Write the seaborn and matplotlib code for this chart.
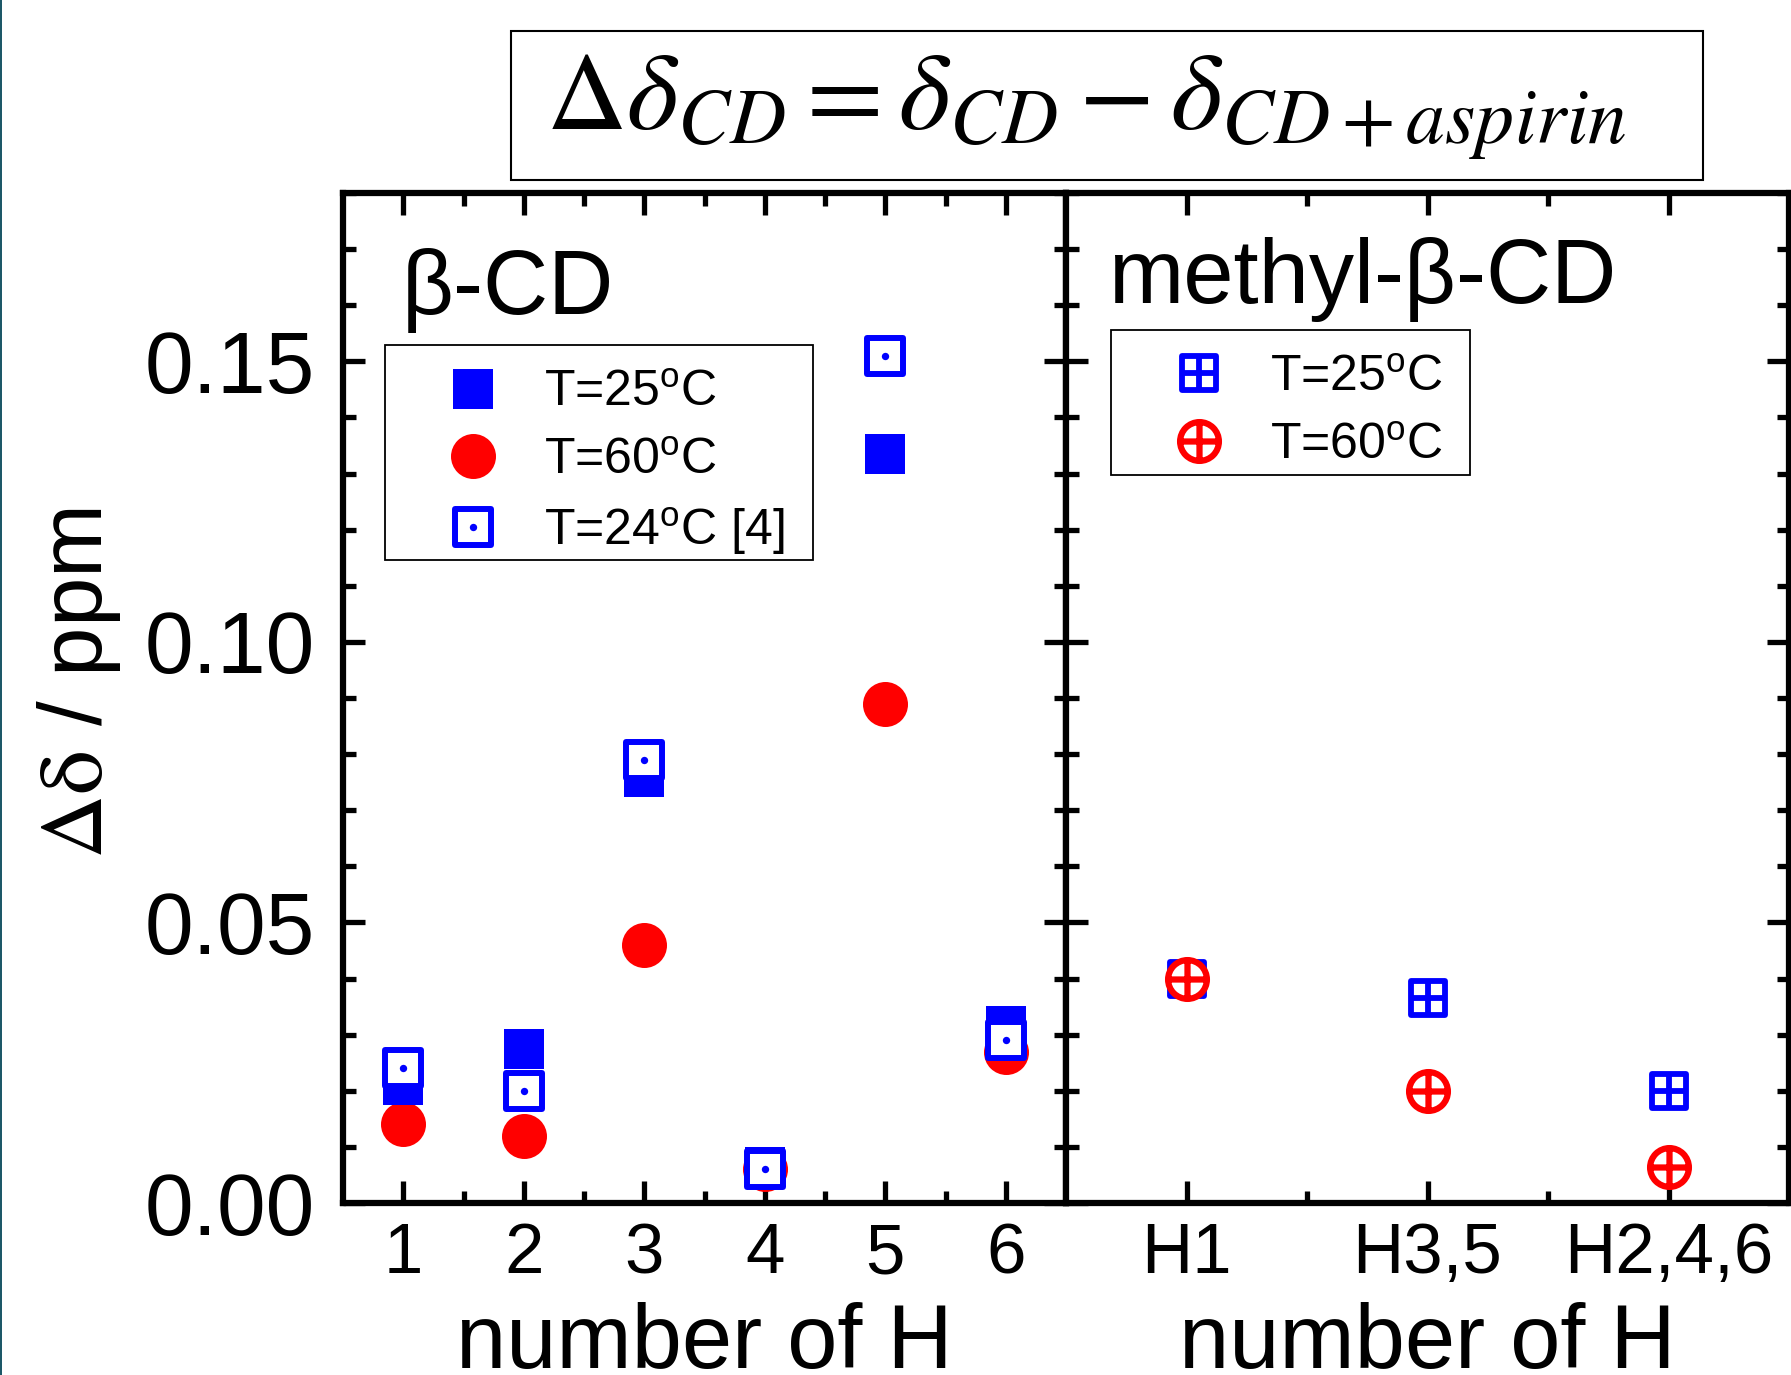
import numpy as np
import pandas as pd
import matplotlib
matplotlib.use("Agg")
import matplotlib.pyplot as plt
import seaborn as sns
from matplotlib.path import Path
from matplotlib.patches import Rectangle
from matplotlib.ticker import FixedLocator, MultipleLocator

# ---------------- data ----------------
h_number = [1, 2, 3, 4, 5, 6]
bcd_25 = [0.021, 0.0275, 0.076, 0.0065, 0.1335, 0.0315]
bcd_60 = [0.014, 0.012, 0.046, 0.006, 0.089, 0.027]
bcd_24_ref = [0.024, 0.020, 0.079, 0.006, 0.151, 0.029]
mbcd_labels = ["H1", "H3,5", "H2,4,6"]
mbcd_25 = [0.040, 0.0365, 0.020]
mbcd_60 = [0.040, 0.020, 0.0065]
yticks = [0.00, 0.05, 0.10, 0.15]
ytick_labels = ["0.00", "0.05", "0.10", "0.15"]
legend_left = [r"T=25$^{\mathrm{o}}$C", r"T=60$^{\mathrm{o}}$C", r"T=24$^{\mathrm{o}}$C [4]"]
legend_right = [r"T=25$^{\mathrm{o}}$C", r"T=60$^{\mathrm{o}}$C"]

BLUE = "#0000FF"
RED = "#FF0000"

sns.set_style("ticks")
plt.rcParams["font.family"] = ["Liberation Sans", "DejaVu Sans"]
plt.rcParams["mathtext.fontset"] = "custom"
plt.rcParams["mathtext.rm"] = "Liberation Sans"
plt.rcParams["mathtext.it"] = "Liberation Sans:italic"
plt.rcParams["mathtext.bf"] = "Liberation Sans:bold"
for k in ["text.color", "axes.labelcolor", "xtick.color", "ytick.color", "axes.edgecolor"]:
    plt.rcParams[k] = "black"

W, H = 1791, 1375
fig = plt.figure(figsize=(W / 100, H / 100), dpi=100)
fig.patch.set_facecolor("white")
axL = fig.add_axes([343 / W, (H - 1203) / H, 723 / W, 1010 / H])
axR = fig.add_axes([1066 / W, (H - 1203) / H, 723 / W, 1010 / H])

# custom markers
sq_v = [(-1, -1), (1, -1), (1, 1), (-1, 1), (-1, -1)]
sq_c = [Path.MOVETO, Path.LINETO, Path.LINETO, Path.LINETO, Path.CLOSEPOLY]
square = Path(sq_v, sq_c)
cross = Path([(-1, 0), (1, 0), (0, -1), (0, 1)],
             [Path.MOVETO, Path.LINETO, Path.MOVETO, Path.LINETO])
sq_plus = Path.make_compound_path(square, cross)
circ_plus = Path.make_compound_path(Path.unit_circle(), cross)

# ---------------- left panel ----------------
sns.scatterplot(x=h_number, y=bcd_60, ax=axL, marker="o", s=1050, color=RED,
                linewidth=0, label=legend_left[1], zorder=3)
h60 = axL.collections[-1]
sns.scatterplot(x=h_number, y=bcd_25, ax=axL, marker="s", s=870, color=BLUE,
                linewidth=0, label=legend_left[0], zorder=4)
h25 = axL.collections[-1]
sns.scatterplot(x=h_number, y=bcd_24_ref, ax=axL, marker="s", s=640, color="white",
                edgecolor=BLUE, linewidth=4.3, label=legend_left[2], zorder=5)
h24_sq = axL.collections[-1]
sns.scatterplot(x=h_number, y=bcd_24_ref, ax=axL, marker="o", s=28, color=BLUE,
                linewidth=0, zorder=6)
h24_dot = axL.collections[-1]

# ---------------- right panel ----------------
sns.scatterplot(x=mbcd_labels, y=mbcd_25, ax=axR, marker=sq_plus, s=620, color="white",
                edgecolor=BLUE, linewidth=4.2, label=legend_right[0], zorder=4)
sns.scatterplot(x=mbcd_labels, y=mbcd_60, ax=axR, marker=circ_plus, s=780, color="white",
                edgecolor=RED, linewidth=4.5, label=legend_right[1], zorder=5)


def style(ax):
    for s in ax.spines.values():
        s.set_visible(True)
        s.set_linewidth(4.5)
        s.set_color("black")
    ax.tick_params(which="both", direction="in", top=True, right=True,
                   bottom=True, left=True, color="black")
    ax.tick_params(which="major", length=16, width=3.8)
    ax.tick_params(which="minor", length=9, width=3.8)
    ax.tick_params(axis="x", which="major", labelsize=51, pad=14)
    ax.tick_params(axis="y", which="major", labelsize=63, pad=20)
    ax.set_ylim(0, 0.18)
    ax.yaxis.set_major_locator(FixedLocator(yticks))
    ax.yaxis.set_minor_locator(MultipleLocator(0.01))
    ax.set_facecolor("white")
    ax.grid(False)


style(axL)
style(axR)

axL.set_xlim(0.5, 6.5)
axL.xaxis.set_major_locator(FixedLocator(h_number))
axL.xaxis.set_minor_locator(FixedLocator([1.5, 2.5, 3.5, 4.5, 5.5]))
axL.set_yticklabels(ytick_labels)

axR.set_xlim(-0.5, 2.5)
axR.xaxis.set_minor_locator(FixedLocator([0.5, 1.5]))
axR.tick_params(axis="y", labelleft=False)

for ax in (axL, axR):
    ax.set_xlabel("number of H", fontsize=65)
    ax.xaxis.set_label_coords(0.5, -0.098)
axL.set_ylabel(r"$\mathrm{\Delta\delta}$ / ppm", fontsize=64, math_fontfamily="stix")
axL.yaxis.set_label_coords(-0.304, 0.515)
axR.set_ylabel("")

axL.text(0.0816, 0.880, "β-CD", transform=axL.transAxes, fontsize=65, va="baseline", ha="left")
axR.text(0.058, 0.891, "methyl-β-CD", transform=axR.transAxes, fontsize=65, va="baseline", ha="left")

# legends (drawn without the automatic frame; a plain box is added around them)
leg_kw = dict(loc="upper left", borderaxespad=0, fontsize=36, frameon=False,
              borderpad=0.5, handlelength=2.52, handletextpad=0.16, labelspacing=0.43,
              scatterpoints=1, scatteryoffsets=[0.5])
legL = axL.legend([h25, h60, (h24_sq, h24_dot)], legend_left,
                  bbox_to_anchor=(0.058, 0.8495), **leg_kw)
axL.add_patch(Rectangle((0.0581, 0.6366), 0.650 - 0.0581, 0.8495 - 0.6366,
                        transform=axL.transAxes, fill=False, edgecolor="black",
                        linewidth=1.3, zorder=2.5))

hR, lR = axR.get_legend_handles_labels()
legR = axR.legend(hR, lR, bbox_to_anchor=(0.0622, 0.8644), **leg_kw)
axR.add_patch(Rectangle((0.0622, 0.7208), 0.5588 - 0.0622, 0.8644 - 0.7208,
                        transform=axR.transAxes, fill=False, edgecolor="black",
                        linewidth=1.3, zorder=2.5))

# formula box
fig.add_artist(Rectangle((511 / W, 1 - 180 / H), 1192 / W, 149 / H, transform=fig.transFigure,
                         fill=False, edgecolor="black", linewidth=1.5))
fig.text(546 / W, 1 - 129 / H, r"$\Delta\delta_{CD} = \delta_{CD} - \delta_{CD+aspirin}$",
         fontsize=80, math_fontfamily="stix", va="baseline", ha="left")

# thin dark edge line at left border
fig.add_artist(Rectangle((0, 0), 2 / W, 1, transform=fig.transFigure, color="#1d5868", linewidth=0))

fig.savefig("out.png", dpi=100, facecolor="white")
